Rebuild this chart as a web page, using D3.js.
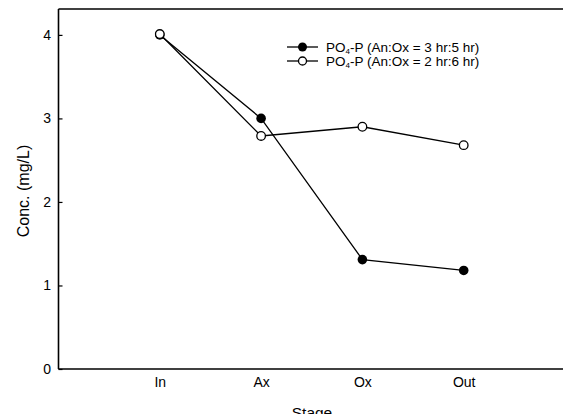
<!DOCTYPE html>
<html><head><meta charset="utf-8">
<script src="https://cdn.jsdelivr.net/npm/d3@7"></script>
<style>body{margin:0;background:#fff}svg{display:block}text{font-family:Arial,"Liberation Sans",sans-serif;fill:#000}</style>
</head><body><svg id="c" width="563" height="414"></svg>
<script>
const categories = ["In","Ax","Ox","Out"];
const series1 = [4.0, 3.0, 1.31, 1.18];
const series2 = [4.01, 2.79, 2.90, 2.68];
const yTicks = [0,1,2,3,4];
const legendLabels = ["3 hr:5 hr", "2 hr:6 hr"];

const svg = d3.select("#c");
const x = d3.scaleLinear().domain([0,5]).range([58.5,565]);
const y = d3.scaleLinear().domain([0,4.31]).range([369,9]);

// frame lines
svg.append("line").attr("x1",x(0)).attr("x2",563).attr("y1",y(4.31)).attr("y2",y(4.31)).attr("stroke","#000").attr("stroke-width",1.4);
svg.append("line").attr("x1",x(0)).attr("x2",563).attr("y1",y(0)).attr("y2",y(0)).attr("stroke","#000").attr("stroke-width",1.6);
svg.append("line").attr("x1",x(0)).attr("x2",x(0)).attr("y1",y(0)).attr("y2",y(4.31)).attr("stroke","#000").attr("stroke-width",1.6);

// y axis ticks + labels
const yAxis = d3.axisLeft(y).tickValues(yTicks).tickSizeInner(-4).tickSizeOuter(0).tickPadding(7.5).tickFormat(d3.format("d"));
const ga = svg.append("g").attr("transform",`translate(${x(0)},0)`).call(yAxis);
ga.select(".domain").remove();
ga.selectAll("line").attr("stroke","#000").attr("stroke-width",1.2);
ga.selectAll("text").attr("font-size",14).attr("font-family","Arial, 'Liberation Sans', sans-serif");

// x labels
const xAxis = d3.axisBottom(x).tickValues([1,2,3,4]).tickSize(0).tickPadding(8).tickFormat(d=>categories[d-1]);
const gx = svg.append("g").attr("transform",`translate(0,${y(0)})`).call(xAxis);
gx.select(".domain").remove();
gx.selectAll("text").attr("font-size",14).attr("font-family","Arial, 'Liberation Sans', sans-serif");

// axis titles
svg.append("text").attr("transform",`translate(28.5,191) rotate(-90)`).attr("text-anchor","middle").attr("font-size",16).text("Conc. (mg/L)");
svg.append("text").attr("x",312).attr("y",418).attr("text-anchor","middle").attr("font-size",15.5).text("Stage");

const line = d3.line().x((d,i)=>x(i+1)).y(d=>y(d));
svg.append("path").attr("d",line(series1)).attr("fill","none").attr("stroke","#000").attr("stroke-width",1.3);
svg.append("path").attr("d",line(series2)).attr("fill","none").attr("stroke","#000").attr("stroke-width",1.3);
svg.selectAll(".p1").data(series1).enter().append("circle").attr("cx",(d,i)=>x(i+1)).attr("cy",d=>y(d)).attr("r",4.8).attr("fill","#000");
svg.selectAll(".p2").data(series2).enter().append("circle").attr("cx",(d,i)=>x(i+1)).attr("cy",d=>y(d)).attr("r",4.3).attr("fill","#fff").attr("stroke","#000").attr("stroke-width",1.3);

// legend
const leg = svg.append("g");
legendLabels.forEach((lab,i)=>{
  const ly = 47 + i*14;
  leg.append("line").attr("x1",287).attr("x2",318).attr("y1",ly).attr("y2",ly).attr("stroke","#000").attr("stroke-width",1.3);
  if(i===0) leg.append("circle").attr("cx",302.5).attr("cy",ly).attr("r",4.5).attr("fill","#000");
  else leg.append("circle").attr("cx",302.5).attr("cy",ly).attr("r",4).attr("fill","#fff").attr("stroke","#000").attr("stroke-width",1.3);
  const t = leg.append("text").attr("x",326).attr("y",ly+4.5).attr("font-size",13.5);
  t.append("tspan").text("PO");
  t.append("tspan").attr("font-size",8).attr("dy",2).text("4");
  t.append("tspan").attr("dy",-2).text("-P (An:Ox = " + lab + ")");
});
</script></body></html>
